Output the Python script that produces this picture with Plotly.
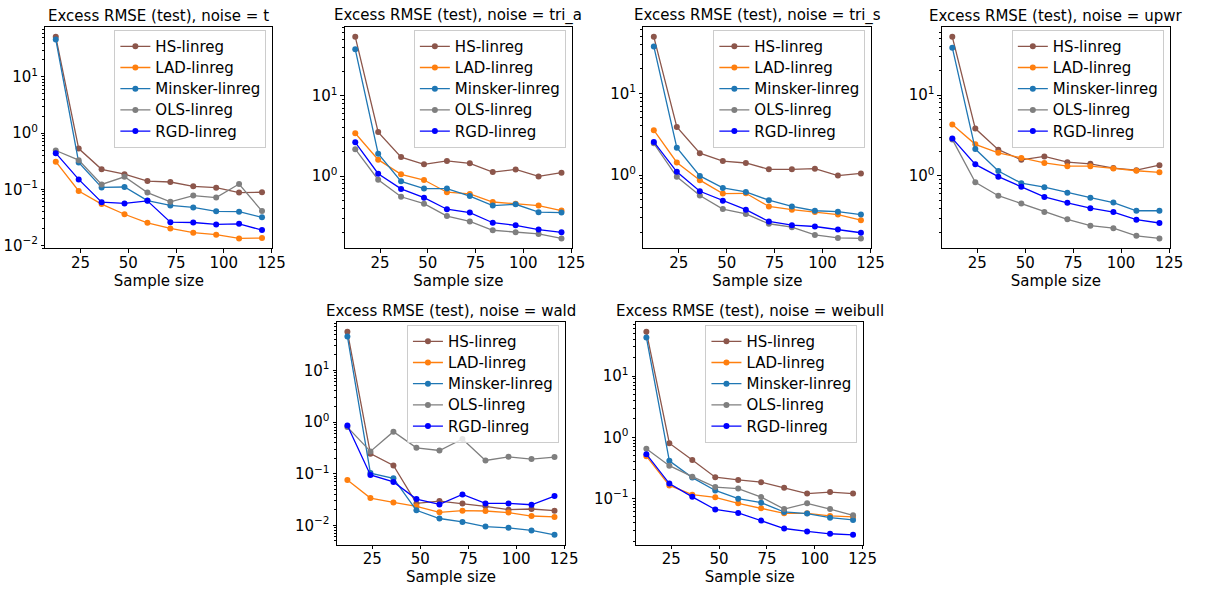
import numpy as np
import plotly.graph_objects as go

W, H = 1207, 595

sample_sizes = [12, 24, 36, 48, 60, 72, 84, 96, 108, 120]
methods = ["HS-linreg", "LAD-linreg", "Minsker-linreg", "OLS-linreg", "RGD-linreg"]
colors = ["#8c564b", "#ff7f0e", "#1f77b4", "#7f7f7f", "#0000ff"]
noises = ["t", "tri_a", "tri_s", "upwr", "wald", "weibull"]

t_hs = [51.6, 0.53, 0.227, 0.186, 0.14, 0.135, 0.113, 0.107, 0.0875, 0.0886]
t_lad = [0.31, 0.0935, 0.0546, 0.036, 0.0253, 0.0201, 0.0169, 0.0156, 0.0134, 0.0136]
t_minsker = [46.4, 0.30, 0.108, 0.11, 0.063, 0.0517, 0.0477, 0.0406, 0.040, 0.0318]
t_ols = [0.49, 0.33, 0.122, 0.167, 0.0874, 0.060, 0.0774, 0.0714, 0.124, 0.041]
t_rgd = [0.44, 0.15, 0.059, 0.056, 0.0624, 0.026, 0.0257, 0.0237, 0.0243, 0.0188]

tri_a_hs = [53.8, 3.52, 1.72, 1.40, 1.54, 1.44, 1.12, 1.21, 0.99, 1.10]
tri_a_lad = [3.40, 1.60, 1.05, 0.893, 0.63, 0.60, 0.476, 0.454, 0.43, 0.373]
tri_a_minsker = [37.6, 1.90, 0.86, 0.70, 0.70, 0.564, 0.43, 0.446, 0.356, 0.352]
tri_a_ols = [2.16, 0.90, 0.553, 0.454, 0.318, 0.273, 0.212, 0.20, 0.191, 0.168]
tri_a_rgd = [2.63, 1.07, 0.693, 0.538, 0.387, 0.352, 0.263, 0.244, 0.216, 0.20]

tri_s_hs = [49.1, 3.89, 1.86, 1.49, 1.41, 1.18, 1.18, 1.20, 0.99, 1.05]
tri_s_lad = [3.55, 1.43, 0.87, 0.596, 0.601, 0.415, 0.379, 0.355, 0.33, 0.282]
tri_s_minsker = [37.5, 2.17, 0.98, 0.70, 0.624, 0.495, 0.415, 0.368, 0.358, 0.33]
tri_s_ols = [2.45, 0.955, 0.564, 0.386, 0.336, 0.255, 0.232, 0.186, 0.171, 0.169]
tri_s_rgd = [2.55, 1.10, 0.636, 0.486, 0.379, 0.272, 0.245, 0.236, 0.217, 0.198]

upwr_hs = [52.5, 3.85, 2.11, 1.58, 1.74, 1.48, 1.41, 1.25, 1.18, 1.36]
upwr_lad = [4.31, 2.46, 1.93, 1.67, 1.45, 1.32, 1.32, 1.24, 1.16, 1.11]
upwr_minsker = [38.5, 2.15, 1.15, 0.814, 0.727, 0.621, 0.539, 0.469, 0.371, 0.371]
upwr_ols = [2.83, 0.837, 0.570, 0.456, 0.357, 0.291, 0.243, 0.226, 0.182, 0.169]
upwr_rgd = [2.91, 1.39, 0.98, 0.734, 0.55, 0.465, 0.40, 0.357, 0.288, 0.262]

wald_hs = [55.8, 0.245, 0.145, 0.0267, 0.0296, 0.0267, 0.0234, 0.0202, 0.0208, 0.0193]
wald_lad = [0.076, 0.0338, 0.0279, 0.0234, 0.0179, 0.0193, 0.019, 0.0177, 0.0152, 0.0146]
wald_minsker = [45.4, 0.103, 0.0817, 0.0196, 0.0136, 0.0117, 0.0095, 0.00897, 0.008, 0.00658]
wald_ols = [0.80, 0.27, 0.652, 0.317, 0.282, 0.472, 0.181, 0.213, 0.192, 0.21]
wald_rgd = [0.863, 0.0947, 0.0695, 0.0323, 0.0255, 0.0397, 0.0267, 0.0267, 0.0251, 0.0369]

weibull_hs = [53.0, 0.80, 0.424, 0.222, 0.201, 0.184, 0.149, 0.12, 0.127, 0.12]
weibull_lad = [0.49, 0.163, 0.115, 0.104, 0.083, 0.069, 0.057, 0.057, 0.0517, 0.0498]
weibull_minsker = [42.9, 0.413, 0.219, 0.135, 0.0988, 0.085, 0.06, 0.0564, 0.0485, 0.0445]
weibull_ols = [0.647, 0.343, 0.227, 0.153, 0.145, 0.105, 0.067, 0.083, 0.067, 0.053]
weibull_rgd = [0.53, 0.175, 0.106, 0.066, 0.058, 0.0434, 0.0322, 0.0288, 0.0264, 0.0254]

panel_series = [
    [t_hs, t_lad, t_minsker, t_ols, t_rgd],
    [tri_a_hs, tri_a_lad, tri_a_minsker, tri_a_ols, tri_a_rgd],
    [tri_s_hs, tri_s_lad, tri_s_minsker, tri_s_ols, tri_s_rgd],
    [upwr_hs, upwr_lad, upwr_minsker, upwr_ols, upwr_rgd],
    [wald_hs, wald_lad, wald_minsker, wald_ols, wald_rgd],
    [weibull_hs, weibull_lad, weibull_minsker, weibull_ols, weibull_rgd],
]

# panel boxes in pixels: (left, right, top, bottom)
boxes = [
    (46, 275.5, 27, 251),
    (349, 578.5, 27, 251),
    (651, 881.5, 27, 251),
    (953, 1183.5, 27, 251),
    (341, 571.5, 325, 550.5),
    (643.5, 873.5, 325, 550.5),
]

FONT = "DejaVu Sans"
FS = 15
LEG_FS = 14


def px(x):
    return x / W


def py(y):
    return 1 - y / H


fig = go.Figure()
layout = dict(
    width=W, height=H,
    margin=dict(l=0, r=0, t=0, b=0),
    paper_bgcolor="white", plot_bgcolor="white",
    font=dict(family=FONT, size=FS, color="black"),
    showlegend=True,
    annotations=[],
)


def sup(e):
    s = str(e).replace("-", "\u2212")
    return "10<sup>" + s + "</sup>"


xr = [sample_sizes[0] - 0.05 * (sample_sizes[-1] - sample_sizes[0]),
      sample_sizes[-1] + 0.05 * (sample_sizes[-1] - sample_sizes[0])]

for i, (noise, series, box) in enumerate(zip(noises, panel_series, boxes)):
    k = i + 1
    xa = "x" if k == 1 else f"x{k}"
    ya = "y" if k == 1 else f"y{k}"
    lg = "legend" if k == 1 else f"legend{k}"
    for m, c, vals in zip(methods, colors, series):
        fig.add_trace(go.Scatter(
            x=sample_sizes, y=vals,
            name=f"<span style='font-size:{FS}px'>{m}</span>",
            mode="lines+markers",
            line=dict(color=c, width=1.3),
            marker=dict(color=c, size=6),
            xaxis=xa, yaxis=ya, legend=lg,
        ))
    allv = np.log10(np.concatenate([np.asarray(v, float) for v in series]))
    lo, hi = allv.min(), allv.max()
    pad = 0.05 * (hi - lo)
    yr = [lo - pad, hi + pad]
    majors = list(range(int(np.ceil(yr[0])), int(np.floor(yr[1])) + 1))
    minors = [d * 10.0 ** e for e in range(int(np.floor(yr[0])), int(np.ceil(yr[1])))
              for d in range(2, 10) if yr[0] <= np.log10(d * 10.0 ** e) <= yr[1]]
    l, r, t, b = box
    xdom = [px(l), px(r)]
    ydom = [py(b), py(t)]
    axis_common = dict(showline=True, mirror=True, linecolor="black", linewidth=1,
                       ticks="outside", ticklen=3.5, tickwidth=1, tickcolor="black",
                       showgrid=False, zeroline=False,
                       tickfont=dict(family=FONT, size=FS, color="black"))
    layout["xaxis" if k == 1 else f"xaxis{k}"] = dict(
        domain=xdom, anchor=ya, range=xr,
        tickvals=[25, 50, 75, 100, 125], ticklabelstandoff=-3,
        title=dict(text="Sample size", font=dict(family=FONT, size=FS), standoff=2),
        **axis_common)
    layout["yaxis" if k == 1 else f"yaxis{k}"] = dict(
        domain=ydom, anchor=xa, type="log", range=yr,
        tickvals=[10.0 ** e for e in majors], ticktext=[sup(e) for e in majors],
        minor=dict(tickvals=minors, ticks="outside", ticklen=2, tickwidth=0.8,
                   tickcolor="black", showgrid=False),
        **axis_common)
    layout[lg] = dict(
        x=px(r - 6), xanchor="right", y=py(t + 3), yanchor="top",
        bgcolor="rgba(255,255,255,0.8)", bordercolor="#cccccc", borderwidth=1,
        font=dict(family=FONT, size=LEG_FS, color="black"),
        itemwidth=30,
    )
    layout["annotations"].append(dict(
        text=f"Excess RMSE (test), noise = {noise}", xref="paper", yref="paper",
        x=px((l + r) / 2), y=py(t - 11), xanchor="center", yanchor="middle",
        showarrow=False, font=dict(family=FONT, size=FS, color="black"),
    ))

fig.update_layout(**layout)
fig.write_html("out.html", config={"displayModeBar": False},
               post_script="document.body.style.margin='0px';")
